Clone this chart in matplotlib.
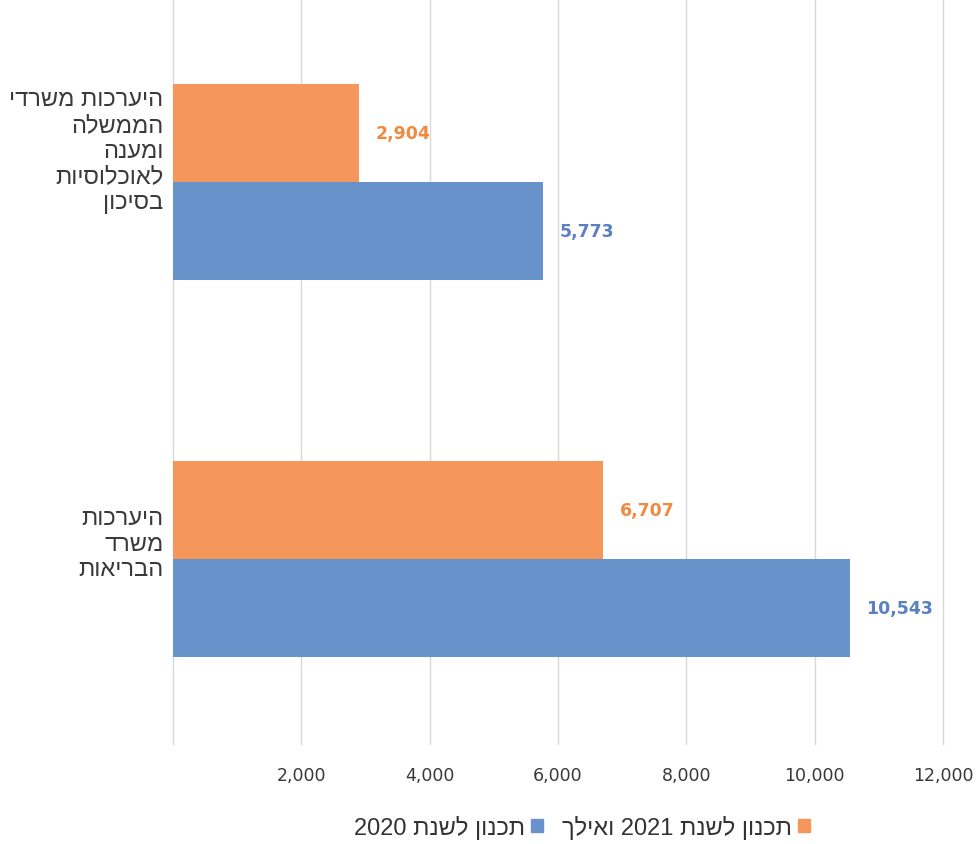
import matplotlib
matplotlib.use("Agg")
import matplotlib.pyplot as plt
import numpy as np
from matplotlib.patches import Patch

categories = ["היערכות משרדי\nהממשלה\nומענה\nלאוכלוסיות\nבסיכון",
              "היערכות\nמשרד\nהבריאות"]
series_names = ["תכנון לשנת 2021 ואילך", "תכנון לשנת 2020"]
values_2021 = [2904, 6707]
values_2020 = [5773, 10543]
xticks = [0, 2000, 4000, 6000, 8000, 10000, 12000]

ORANGE = "#F5975A"
BLUE = "#6792CA"
ORANGE_T = "#F08A40"
BLUE_T = "#5B80C0"


def is_heb(tok):
    return any('\u0590' <= c <= '\u05FF' for c in tok)


def vis(s):
    out = []
    for line in s.split("\n"):
        toks = line.split(" ")
        toks = [t[::-1] if is_heb(t) else t for t in toks]
        out.append(" ".join(toks[::-1]))
    return "\n".join(out)


plt.rcParams['font.family'] = ['Liberation Sans', 'DejaVu Sans']

fig = plt.figure(figsize=(9.76, 8.45), dpi=100)
ax = fig.add_axes([173 / 976, 1 - 745 / 845, (943 - 173) / 976, 745 / 845])

ypos = np.array([1.0, 0.0])
h = 0.26
b1 = ax.barh(ypos + h / 2, values_2021, height=h, color=ORANGE, zorder=3)
b2 = ax.barh(ypos - h / 2, values_2020, height=h, color=BLUE, zorder=3)

for bars, col in ((b1, ORANGE_T), (b2, BLUE_T)):
    for r in bars:
        w = r.get_width()
        ax.annotate(f"{w:,.0f}", xy=(w, r.get_y() + r.get_height() / 2),
                    xytext=(12, 0), textcoords="offset points",
                    ha="left", va="center", fontsize=12.5, fontweight="bold",
                    color=col, family="DejaVu Sans")

ax.set_xlim(0, 12000)
ax.set_ylim(-0.49, 1.485)
ax.set_xticks(xticks)
ax.set_xticklabels([f"{v:,}" if v else "" for v in xticks],
                   family="DejaVu Sans", fontsize=12.5, color="#383838")
ax.tick_params(axis="x", length=0, pad=16)
ax.set_yticks([])
ax.grid(axis="x", color="#D9D9D9", lw=1, zorder=0)
for gl in ax.get_xgridlines():
    gl.set_clip_on(False)
for s in ax.spines.values():
    s.set_visible(False)

for cat, yv in zip(categories, ypos):
    n = cat.count("\n") + 1
    ax.annotate(vis(cat), xy=(0, yv), xycoords=("axes fraction", "data"),
                xytext=(-7, 5.8 * n - 6.4), textcoords="offset points",
                ha="right", va="center", multialignment="right",
                fontsize=17, color="#3A3A3A", linespacing=1.21)

handles = [Patch(color=BLUE), Patch(color=ORANGE)]
labels = [vis(series_names[1]), vis(series_names[0])]
fig.legend(handles, labels, loc="center", bbox_to_anchor=(582 / 976, 1 - 828 / 845),
           ncol=2, frameon=False, markerfirst=False, fontsize=17,
           handlelength=0.5, handleheight=0.5, handletextpad=0.25,
           columnspacing=0.8, labelcolor="#333333")

fig.savefig("out.png", dpi=100)
